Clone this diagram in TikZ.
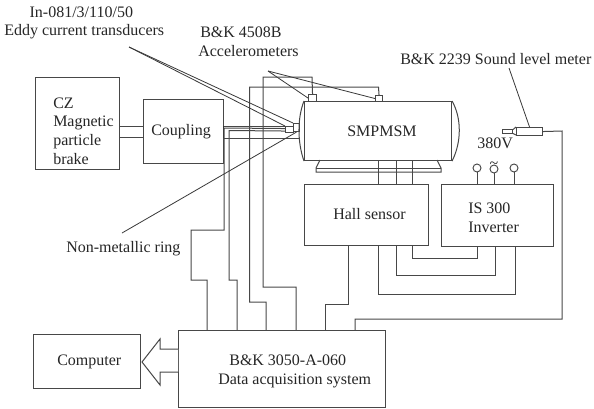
\documentclass[tikz,border=0pt]{standalone}
\usepackage{fontspec}
\setmainfont{Liberation Serif}
\definecolor{ln}{gray}{0.28}
\tikzset{x=0.75pt,y=-0.75pt,
 wire/.style={draw=ln,line width=0.75pt},
 leader/.style={draw=ln!80!black,line width=0.6pt},
 blockbox/.style={draw=ln,line width=0.8pt,fill=white,inner sep=0pt,anchor=north west},
 lbl/.style={font=\fontsize{12pt}{14pt}\selectfont,text=black!85,inner sep=0pt,align=left,anchor=west}}
\newcommand{\blk}[6]{\node[blockbox,minimum width=#4*0.75pt-#2*0.75pt,minimum height=#5*0.75pt-#3*0.75pt] (#1) at (#2,#3) {#6};}
\begin{document}
\begin{tikzpicture}
\useasboundingbox (0,0) rectangle (594,408);
\fill[white] (0,0) rectangle (594,408);
% boxes
\blk{brake}{35}{77}{119}{169}{}
\blk{coup}{143}{99}{223}{163}{}
\blk{motor}{304}{101}{451}{160}{}
\blk{hall}{304}{184}{428}{245}{}
\blk{inv}{441}{184}{553}{246}{}
\blk{daq}{178}{330}{385}{407}{}
\blk{comp}{33}{334}{140}{388}{}
\blk{acc1}{308}{94}{316}{101}{}
\blk{acc2}{375}{95}{382}{101}{}
\blk{trA}{285}{126}{293}{132}{}
\blk{trB}{293}{123}{299}{131}{}
\blk{meter}{516}{127}{542}{135}{}
\blk{mtip}{502}{129}{512}{133}{}
\node[draw=ln,line width=0.7pt,fill=white,circle,minimum size=6pt,inner sep=0pt] (t1) at (477,168) {};
\node[draw=ln,line width=0.7pt,fill=white,circle,minimum size=6pt,inner sep=0pt] (t2) at (494,169) {};
\node[draw=ln,line width=0.7pt,fill=white,circle,minimum size=6pt,inner sep=0pt] (t3) at (514,168) {};
% motor caps, base
\draw[wire] (motor.north west) .. controls (297.3,118) and (297.3,142) .. (motor.south west);
\draw[wire] (motor.north east) .. controls (461.7,118) and (461.7,142) .. (motor.south east);
\draw[wire] (320,160)--(316,168)--(316,172)--(441,172)--(441,168)--(437,160);
\draw[wire] (316,168)--(441,168);
% meter taper
\draw[wire] (mtip.east)+(0,-2)--(516,127);
\draw[wire] (mtip.east)+(0,2)--(516,135);
% shafts
\draw[wire] (119,126)--(143,126);
\draw[wire] (119,137)--(143,137);
\draw[wire] (223,126)--(trA.north west);
\draw[wire] (223,138)--(300,138);
\draw[line width=1.2pt,black!80] (223.5,126)--(223.5,138);
% data wires
\draw[wire] (acc1.north) -- (312,77) -- (263,77) -- (263,287) -- (296,287) -- (296,0 |- daq.north);
\draw[wire] (acc2.north) -- (378.5,87) -- (249.5,87) -- (249.5,302) -- (266,302) -- (266,0 |- daq.north);
\draw[wire] (trA.west) ++(0,-1) -- (224,128) -- (224,230) -- (191,230) -- (191,280) -- (207,280) -- (207,0 |- daq.north);
\draw[wire] (trA.west) ++(0,1.5) -- (229,130.5) -- (229,280) -- (237,280) -- (237,0 |- daq.north);
\draw[wire] (348,0 |- hall.south) -- (348,304) -- (325,304) -- (325,0 |- daq.north);
\draw[wire] (355,0 |- daq.north) -- (355,319) -- (562,319) -- (562,131) -- (meter.east);
\draw[wire] (378,0 |- hall.south) -- (378,294) -- (515,294) -- (515,0 |- inv.south);
\draw[wire] (396,0 |- hall.south) -- (396,275) -- (495,275) -- (495,0 |- inv.south);
\draw[wire] (412,0 |- hall.south) -- (412,258) -- (477,258) -- (477,0 |- inv.south);
\draw[wire] (378,0 |- motor.south) -- (378,0 |- hall.north);
\draw[wire] (396.5,0 |- motor.south) -- (396.5,0 |- hall.north);
\draw[wire] (412,0 |- motor.south) -- (412,0 |- hall.north);
\draw[wire] (t1) -- (477,0 |- inv.north);
\draw[wire] (t2) -- (494,0 |- inv.north);
\draw[wire] (t3) -- (514,0 |- inv.north);
% leaders
\coordinate (eddy) at (129,47);
\coordinate (accl) at (268,71);
\coordinate (soundl) at (509,68);
\coordinate (ringl) at (122,233);
\draw[leader] (eddy) -- (trA.north west);
\draw[leader] (eddy) -- (trB.north west);
\draw[leader] (accl) -- (acc1.west);
\draw[leader] (accl) -- (acc2.west);
\draw[leader] (soundl) -- (meter.north);
\draw[leader] (ringl) -- (trB.south);
% arrow
\draw[wire,fill=white] (daq.west |- 0,349)--(160,349)--(160,339)--(142,362)--(160,385)--(160,372)--(daq.west |- 0,372);
% text
\node[lbl] (l1) at (53,131) {CZ\\Magnetic\\particle\\brake};
\node[lbl] (l2) at (151,131.5) {Coupling};
\node[lbl] (l3) at (333,214) {Hall sensor};
\node[lbl] (l4) at (468,218) {IS 300\\Inverter};
\node[lbl] (l5) at (218,371.5) {\hspace*{8.3pt}B\&K 3050-A-060\\Data acquisition system};
\node[lbl] (l6) at (57,361.5) {Computer};
\node[lbl] (l7) at (4,23) {\hspace*{19pt}In-081/3/110/50\\Eddy current transducers};
\node[lbl] (l8) at (198,42) {\hspace*{1.5pt}B\&K 4508B\\Accelerometers};
\node[lbl] (l9) at (400,59) {B\&K 2239 Sound level meter};
\node[lbl] (l10) at (477,143) {380V};
\node[lbl] (l11) at (66,248.5) {Non-metallic ring};
\node[lbl] (l12) at (347,131) {SMPMSM};
\node[lbl,anchor=center] (l13) at (494,165) {\string~};
\end{tikzpicture}
\end{document}
